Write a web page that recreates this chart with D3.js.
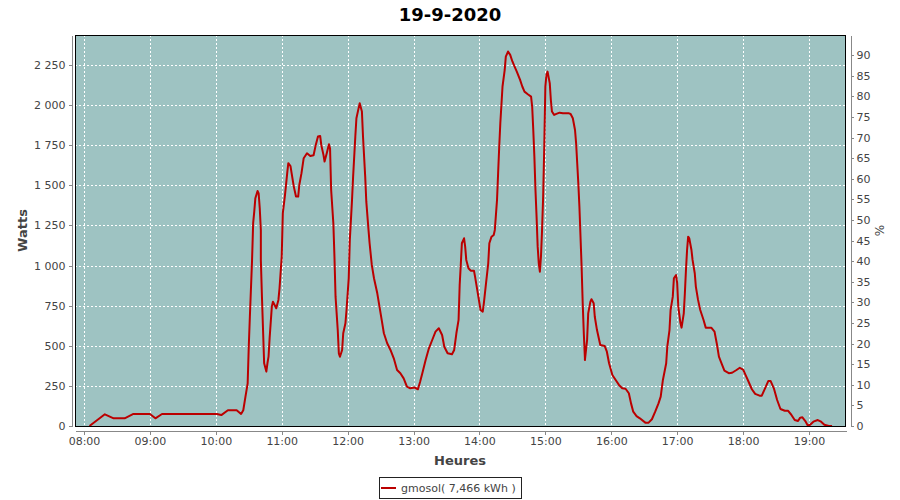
<!DOCTYPE html>
<html><head><meta charset="utf-8">
<script src="https://cdn.jsdelivr.net/npm/d3@7"></script>
<style>
html,body{margin:0;padding:0;background:#fff;}
svg{display:block;font-family:"DejaVu Sans",sans-serif;}
</style></head>
<body><svg id="c" width="900" height="500"></svg>
<script>
const title = "19-9-2020";
const seriesName = "gmosol( 7,466 kWh )";
const times = ["08:05","08:19","08:27","08:37","08:45","09:00","09:05","09:11","10:01","10:05","10:11","10:19","10:23","10:25","10:27","10:29","10:30","10:31","10:33","10:34","10:35","10:36","10:38","10:39","10:40","10:41","10:41","10:42","10:43","10:44","10:46","10:47","10:48","10:49","10:51","10:52","10:55","10:57","10:58","11:00","11:01","11:03","11:05","11:06","11:08","11:09","11:11","11:13","11:15","11:16","11:18","11:20","11:23","11:26","11:29","11:31","11:33","11:35","11:36","11:38","11:39","11:41","11:43","11:44","11:45","11:47","11:48","11:49","11:51","11:52","11:53","11:55","11:56","11:58","11:59","12:01","12:02","12:04","12:05","12:07","12:08","12:10","12:11","12:13","12:14","12:16","12:17","12:19","12:20","12:22","12:24","12:27","12:29","12:31","12:33","12:36","12:39","12:42","12:45","12:48","12:51","12:54","12:57","13:01","13:04","13:06","13:08","13:11","13:14","13:17","13:20","13:23","13:26","13:28","13:31","13:35","13:37","13:39","13:41","13:42","13:43","13:44","13:46","13:47","13:48","13:50","13:52","13:55","13:56","13:58","14:00","14:01","14:03","14:04","14:06","14:08","14:09","14:11","14:13","14:14","14:16","14:17","14:18","14:19","14:20","14:21","14:23","14:24","14:26","14:28","14:30","14:32","14:34","14:37","14:39","14:41","14:44","14:47","14:48","14:49","14:50","14:51","14:52","14:53","14:54","14:55","14:56","14:57","14:58","14:59","15:00","15:01","15:02","15:04","15:05","15:06","15:08","15:10","15:13","15:16","15:21","15:23","15:25","15:27","15:28","15:29","15:30","15:31","15:32","15:33","15:34","15:35","15:36","15:36","15:38","15:39","15:41","15:42","15:44","15:45","15:47","15:49","15:50","15:54","15:56","15:58","16:01","16:04","16:07","16:10","16:13","16:16","16:18","16:20","16:23","16:26","16:31","16:34","16:37","16:40","16:43","16:45","16:47","16:50","16:51","16:53","16:54","16:56","16:57","16:59","17:00","17:01","17:03","17:04","17:06","17:07","17:08","17:09","17:10","17:11","17:13","17:14","17:16","17:17","17:19","17:21","17:24","17:26","17:31","17:34","17:36","17:38","17:41","17:43","17:47","17:50","17:54","17:57","18:00","18:02","18:05","18:08","18:11","18:15","18:17","18:20","18:23","18:25","18:28","18:31","18:34","18:38","18:41","18:44","18:47","18:50","18:52","18:54","18:57","18:59","19:01","19:04","19:08","19:11","19:14","19:18","19:21"];
const watts = [0,73,48,48,75,75,48,75,75,68,98,98,75,98,183,266,494,681,1035,1264,1336,1420,1465,1450,1357,1222,1035,806,598,391,339,391,432,549,744,775,734,786,858,1056,1326,1440,1576,1638,1620,1576,1492,1430,1430,1502,1576,1669,1700,1683,1688,1752,1804,1808,1752,1690,1648,1700,1756,1730,1471,1264,1056,806,598,453,432,474,578,640,723,921,1160,1409,1554,1804,1918,1981,2012,1960,1804,1554,1398,1222,1139,1004,921,827,744,661,578,516,474,422,349,329,297,245,235,240,229,276,329,411,484,536,588,609,567,494,453,447,474,578,661,879,1004,1139,1170,1118,1035,983,968,968,931,848,765,723,713,765,890,1014,1139,1180,1191,1222,1409,1576,1741,1887,2001,2116,2219,2302,2334,2313,2272,2240,2209,2157,2116,2084,2068,2053,1991,1845,1679,1471,1305,1118,1014,962,1056,1222,1430,1741,2116,2188,2209,2137,2032,1960,1939,1945,1953,1950,1950,1945,1918,1845,1762,1638,1513,1367,1180,993,765,578,422,411,536,702,775,790,765,681,598,536,505,499,463,391,318,287,256,235,232,204,141,89,62,48,21,21,42,89,141,183,287,391,494,598,723,806,921,941,890,744,640,613,702,827,973,1097,1180,1170,1097,1035,952,869,786,723,661,613,613,588,516,432,380,345,329,332,349,363,352,322,276,229,200,189,189,235,281,281,235,162,106,95,95,69,37,31,52,54,27,2,8,27,37,27,8,0,0];
const hourTicks = ["08:00","09:00","10:00","11:00","12:00","13:00","14:00","15:00","16:00","17:00","18:00","19:00"];
const xBounds = ["07:51:49","19:33:41"];
const wattTicks = [0,250,500,750,1000,1250,1500,1750,2000,2250];
const wattMax = 2437;
const pctTicks = [0,5,10,15,20,25,30,35,40,45,50,55,60,65,70,75,80,85,90];
const pctMax = 94.9;

const parseHM = d3.timeParse("%H:%M");
const parseHMS = d3.timeParse("%H:%M:%S");
const data = times.map((t,i)=>({t:parseHM(t), v:watts[i]}));

const L=75, R=846, T=35, B=426;
const svg = d3.select("#c");
svg.append("rect").attr("width",900).attr("height",500).attr("fill","#fff");

const x = d3.scaleTime().domain(xBounds.map(parseHMS)).range([L,R]);
const y = d3.scaleLinear().domain([0,wattMax]).range([B,T]);
const y2 = d3.scaleLinear().domain([0,pctMax]).range([B,T]);

svg.append("rect").attr("x",L).attr("y",T).attr("width",R-L).attr("height",B-T).attr("fill","#9ec3c2");

const g = svg.append("g").attr("stroke","#fff").attr("stroke-width",1).attr("stroke-dasharray","2,2").attr("shape-rendering","crispEdges");
hourTicks.forEach(h=>{const xx=Math.round(x(parseHM(h)))+0.5; g.append("line").attr("x1",xx).attr("x2",xx).attr("y1",T).attr("y2",B);});
wattTicks.slice(1).forEach(w=>{const yy=Math.round(y(w))+0.5; g.append("line").attr("x1",L).attr("x2",R).attr("y1",yy).attr("y2",yy);});

const line = d3.line().x(d=>x(d.t)).y(d=>y(d.v));
svg.append("path").datum(data).attr("d",line).attr("fill","none").attr("stroke","#bb0000").attr("stroke-width",2).attr("stroke-linejoin","round");

svg.append("rect").attr("x",L+0.5).attr("y",T+0.5).attr("width",R-L-1).attr("height",B-T).attr("fill","none").attr("stroke","#000").attr("stroke-width",1).attr("shape-rendering","crispEdges");

const fmtW = v => d3.format(",")(v).replace(/,/g," ");
function styleAxis(sel){
  sel.selectAll("path,line").attr("stroke","#888").attr("shape-rendering","crispEdges");
  sel.selectAll("text").attr("fill","#444").style("font-size","11px").style("font-family","DejaVu Sans");
}
const ax = svg.append("g").attr("transform","translate(71.5,0)")
  .call(d3.axisLeft(y).tickValues(wattTicks).tickFormat(fmtW).tickSize(3).tickSizeOuter(0).tickPadding(3));
styleAxis(ax);
const ax2 = svg.append("g").attr("transform","translate(850.5,0)")
  .call(d3.axisRight(y2).tickValues(pctTicks).tickSize(3).tickSizeOuter(0).tickPadding(3));
styleAxis(ax2);
const ax3 = svg.append("g").attr("transform","translate(0,430.5)")
  .call(d3.axisBottom(x).tickValues(hourTicks.map(parseHM)).tickFormat(d3.timeFormat("%H:%M")).tickSize(4).tickSizeOuter(0).tickPadding(3));
styleAxis(ax3);

svg.append("text").attr("x",450).attr("y",21).attr("text-anchor","middle")
  .style("font-size","18px").style("font-weight","bold").attr("fill","#000").text(title);
svg.append("text").attr("transform","translate(27,230.5) rotate(-90)").attr("text-anchor","middle")
  .style("font-size","13px").style("font-weight","bold").attr("fill","#444").text("Watts");
svg.append("text").attr("x",460).attr("y",465).attr("text-anchor","middle")
  .style("font-size","13px").style("font-weight","bold").attr("fill","#444").text("Heures");
svg.append("text").attr("transform","translate(884,230.5) rotate(-90)").attr("text-anchor","middle")
  .style("font-size","12px").attr("fill","#444").text("%");

const lg = svg.append("g");
lg.append("rect").attr("x",379.5).attr("y",477.5).attr("width",142).attr("height",21).attr("fill","#fff").attr("stroke","#222").attr("shape-rendering","crispEdges");
lg.append("line").attr("x1",381).attr("x2",396).attr("y1",488).attr("y2",488).attr("stroke","#bb0000").attr("stroke-width",2);
lg.append("text").attr("x",401).attr("y",492).style("font-size","11px").attr("fill","#444").text(seriesName);
</script></body></html>
